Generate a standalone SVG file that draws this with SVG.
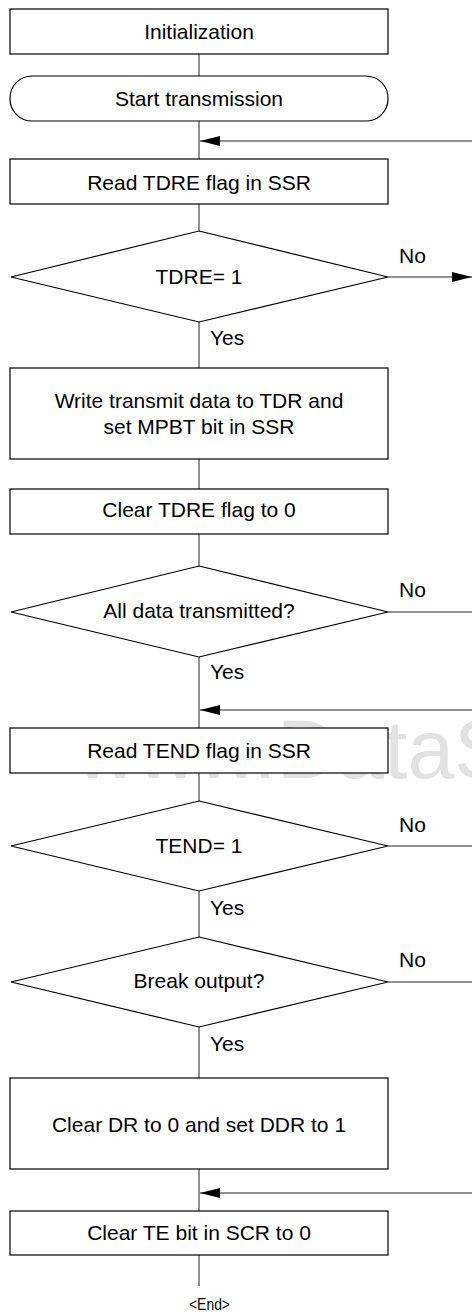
<svg xmlns="http://www.w3.org/2000/svg" width="472" height="1312" viewBox="0 0 472 1312">
<style>
.box{fill:#fff;stroke:#000;stroke-width:1.2}
.t{font-family:"Liberation Sans",Arial,sans-serif;font-size:21px;fill:#000;text-anchor:middle}
.l{font-family:"Liberation Sans",Arial,sans-serif;font-size:21px;fill:#000}
.c{fill:none;stroke:#222;stroke-width:1}
.wm{font-family:"Liberation Sans",Arial,sans-serif;font-size:84px;fill:#e2e2e2}
</style>
<defs>
<marker id="ah" markerUnits="userSpaceOnUse" markerWidth="20" markerHeight="10" refX="20" refY="5" orient="auto">
<path d="M0,0 L20,5 L0,10 z" fill="#000"/>
</marker>
</defs>
<rect width="472" height="1312" fill="#fff"/>
<text class="wm" x="76" y="778">www.DataS</text>
<g id="connectors">
<path class="c" d="M199,54V76"/>
<path class="c" d="M199,121V159"/>
<path class="c" d="M472,141H200" marker-end="url(#ah)"/>
<path class="c" d="M199,204V231"/>
<path class="c" d="M388,277H472" marker-end="url(#ah)"/>
<path class="c" d="M199,322V368"/>
<path class="c" d="M199,459V489"/>
<path class="c" d="M199,534V566"/>
<path class="c" d="M388,612H472"/>
<path class="c" d="M199,657V728"/>
<path class="c" d="M472,710H200" marker-end="url(#ah)"/>
<path class="c" d="M199,773V801"/>
<path class="c" d="M388,846H472"/>
<path class="c" d="M199,891V937"/>
<path class="c" d="M388,982H472"/>
<path class="c" d="M199,1027V1078"/>
<path class="c" d="M199,1169V1211"/>
<path class="c" d="M472,1193H200" marker-end="url(#ah)"/>
<path class="c" d="M199,1255V1286"/>
</g>
<g id="init"><rect class="box" x="10" y="9" width="378" height="45"/><text class="t" x="199" y="39">Initialization</text></g>
<g id="start"><rect class="box" x="10" y="76" width="378" height="45" rx="22" ry="22"/><text class="t" x="199" y="106">Start transmission</text></g>
<g id="readTdre"><rect class="box" x="10" y="159" width="378" height="45"/><text class="t" x="199" y="189.5">Read TDRE flag in SSR</text></g>
<g id="tdreDec"><path class="box" d="M199,231 L388,277 L199,322 L11,277 Z"/><text class="t" x="199" y="283.5">TDRE= 1</text><text class="l" x="399" y="263">No</text><text class="l" x="210" y="345">Yes</text></g>
<g id="write"><rect class="box" x="10" y="368" width="378" height="91"/><text class="t" x="199" y="408">Write transmit data to TDR and</text><text class="t" x="199" y="434">set MPBT bit in SSR</text></g>
<g id="clearTdre"><rect class="box" x="10" y="489" width="378" height="45"/><text class="t" x="199" y="517">Clear TDRE flag to 0</text></g>
<g id="allDec"><path class="box" d="M199,566 L388,612 L199,657 L11,612 Z"/><text class="t" x="199" y="618">All data transmitted?</text><text class="l" x="399" y="597">No</text><text class="l" x="210" y="679">Yes</text></g>
<g id="readTend"><rect class="box" x="10" y="728" width="378" height="45"/><text class="t" x="199" y="758">Read TEND flag in SSR</text></g>
<g id="tendDec"><path class="box" d="M199,801 L388,846 L199,891 L11,846 Z"/><text class="t" x="199" y="853">TEND= 1</text><text class="l" x="399" y="832">No</text><text class="l" x="210" y="915">Yes</text></g>
<g id="breakDec"><path class="box" d="M199,937 L388,982 L199,1027 L11,982 Z"/><text class="t" x="199" y="988">Break output?</text><text class="l" x="399" y="967">No</text><text class="l" x="210" y="1051">Yes</text></g>
<g id="clearDr"><rect class="box" x="10" y="1078" width="378" height="91"/><text class="t" x="199" y="1132">Clear DR to 0 and set DDR to 1</text></g>
<g id="clearTe"><rect class="box" x="10" y="1211" width="378" height="44"/><text class="t" x="199" y="1240">Clear TE bit in SCR to 0</text></g>
<g id="end"><text class="l" x="189" y="1310" textLength="41" lengthAdjust="spacingAndGlyphs" style="font-size:17px">&lt;End&gt;</text></g>
</svg>
